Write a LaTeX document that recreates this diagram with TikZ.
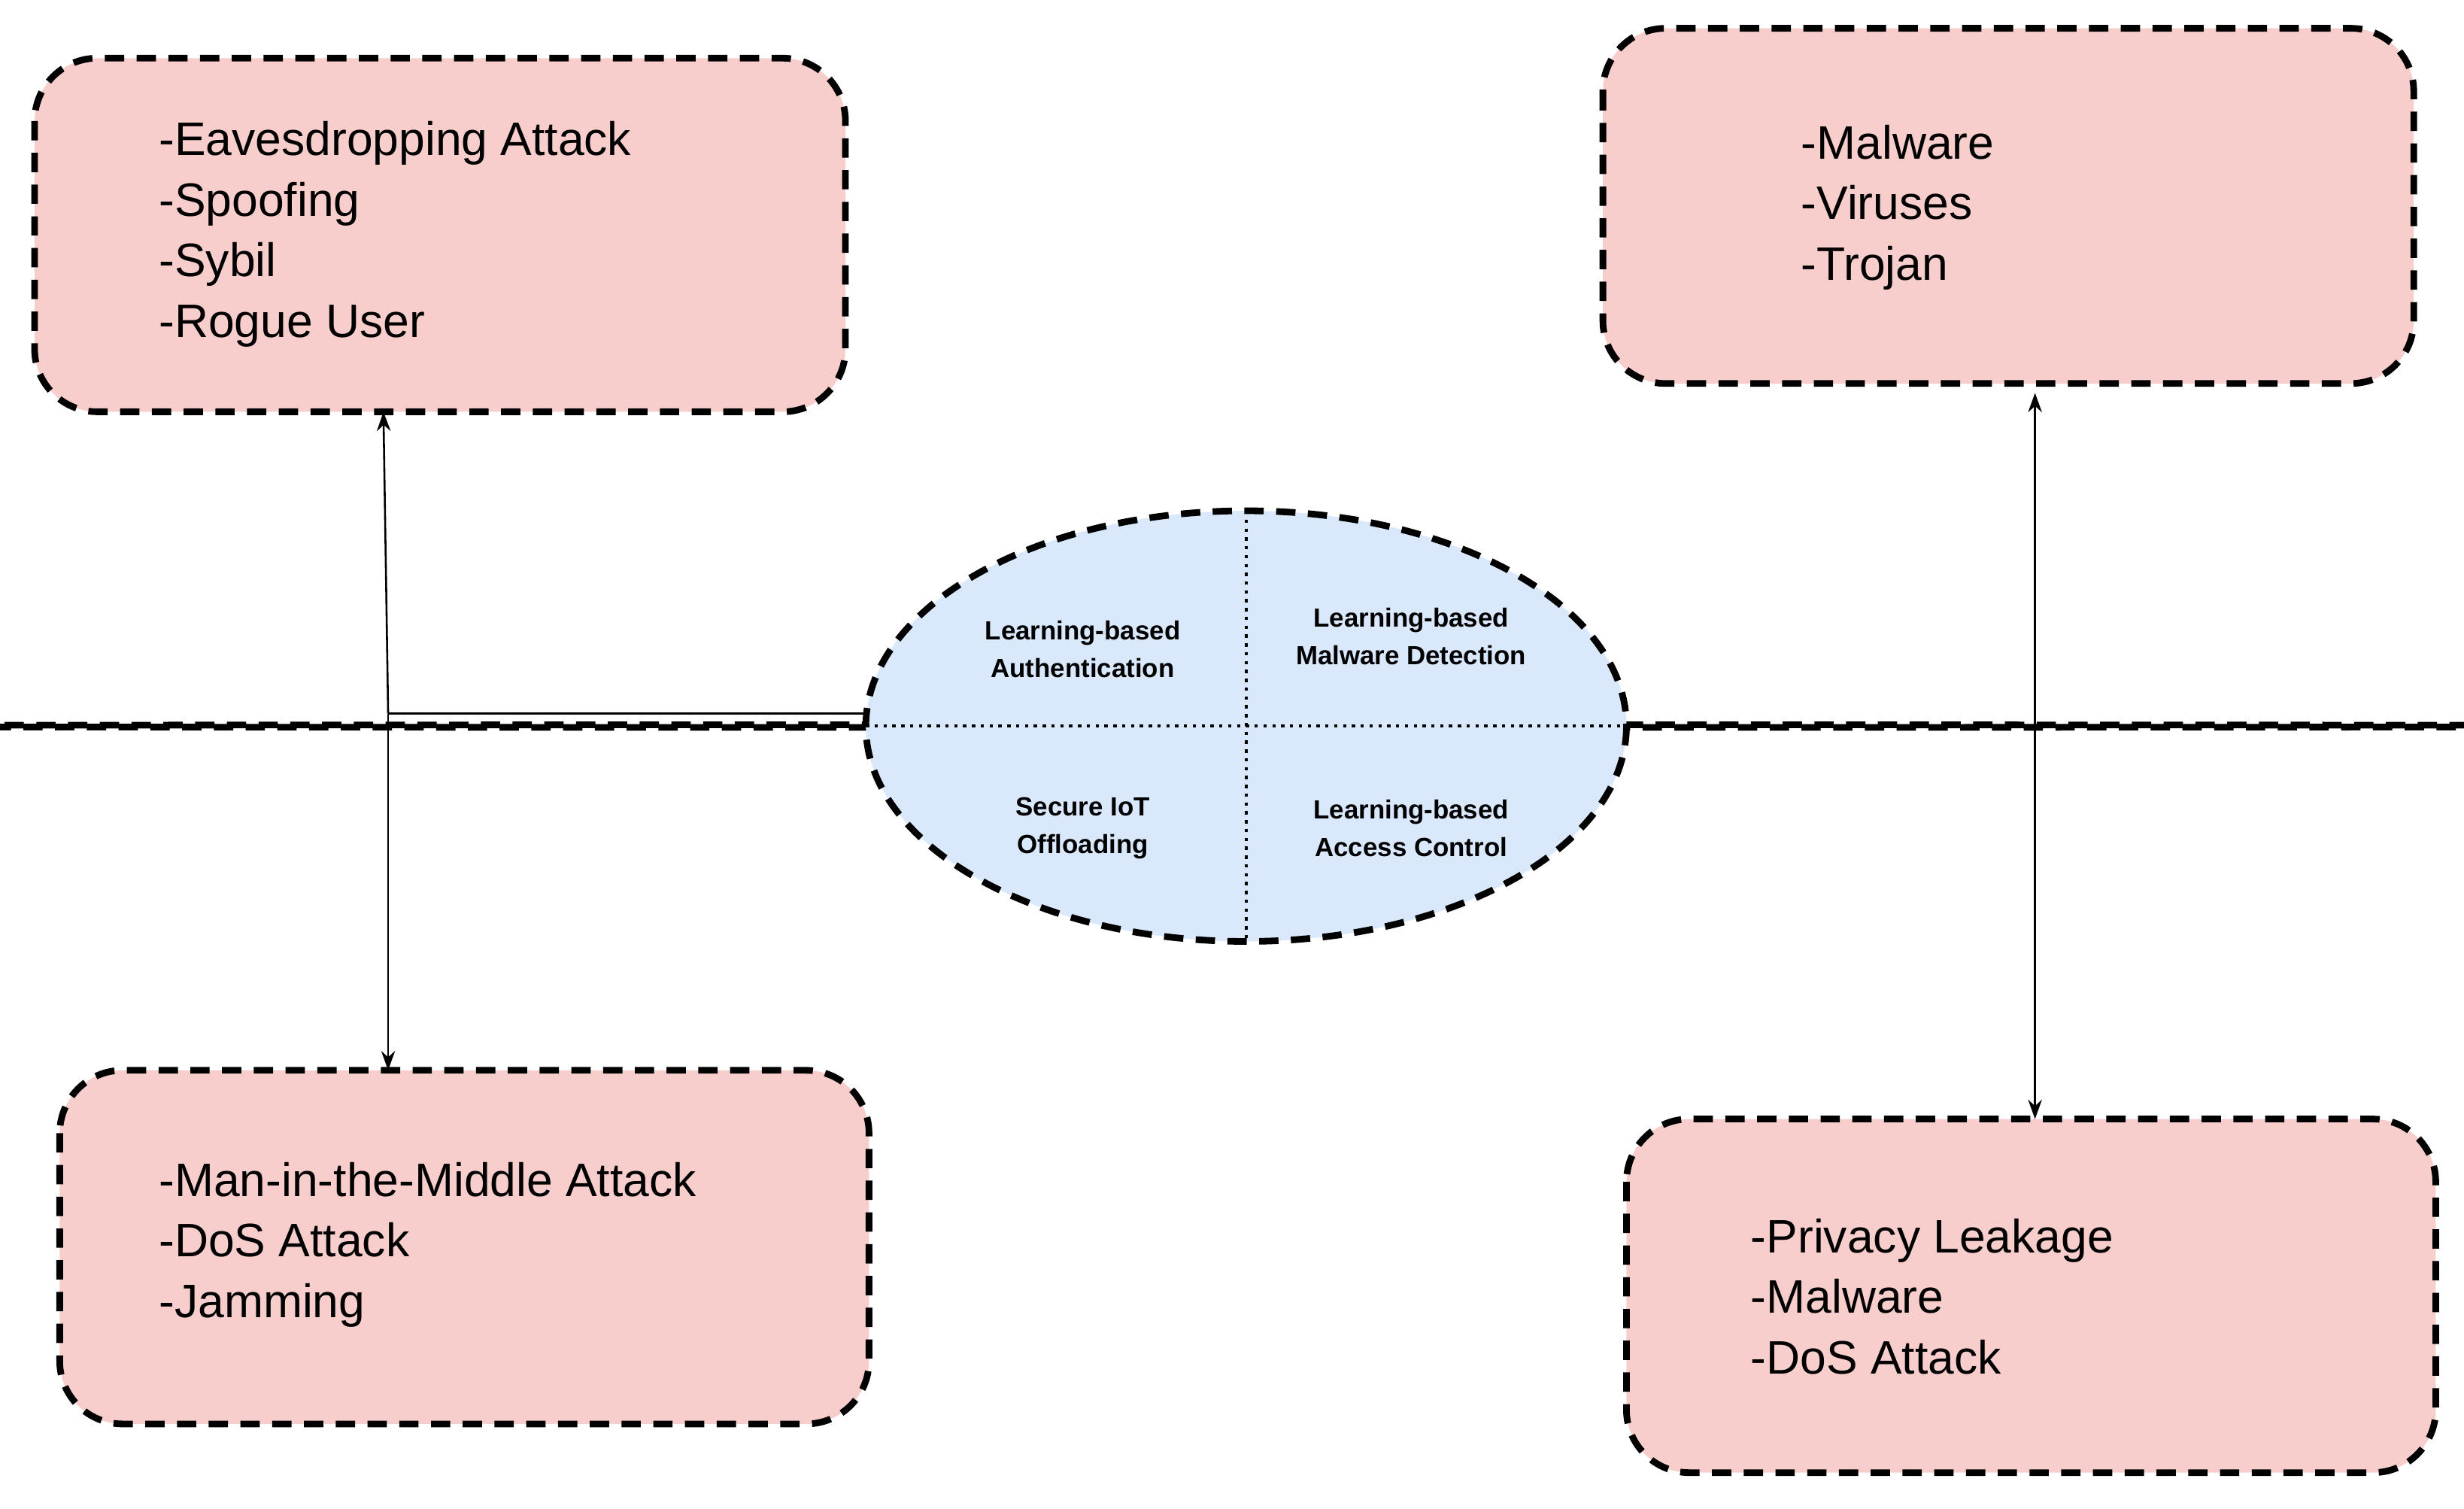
\documentclass[tikz,border=0pt]{standalone}
\usepackage{fontspec}
\setmainfont{Liberation Sans}
\usetikzlibrary{shapes.geometric,arrows.meta}
\definecolor{pinkf}{HTML}{F8CECC}
\definecolor{bluef}{HTML}{DAE8FC}
\begin{document}
\begin{tikzpicture}[x=0.02cm,y=-0.02cm,
  box/.style={draw,fill=pinkf,line width=2.4pt,dash pattern=on 7pt off 4.5pt,rounded corners=0.8cm},
  big/.style={anchor=west,font=\fontsize{17}{22}\selectfont,align=left},
  small/.style={font=\fontsize{9.5}{13.5}\selectfont\bfseries,align=center},
  conn/.style={line width=0.7pt},
  arr/.style={conn,-{Stealth[length=7pt,width=5pt]}}]
\useasboundingbox (0,0) rectangle (1568,960);
\draw[box] (22,37) rectangle (538,262);
\draw[box] (1020,18) rectangle (1536,244);
\draw[box] (38,681) rectangle (553,906);
\draw[box] (1035,712) rectangle (1550,937);
\node[big] (t1) at (95,149) {-Eavesdropping Attack\\-Spoofing\\-Sybil\\-Rogue User};
\node[big] (t2) at (1140,132) {-Malware\\-Viruses\\-Trojan};
\node[big] (t3) at (95,792) {-Man-in-the-Middle Attack\\-DoS Attack\\-Jamming};
\node[big] (t4) at (1108,825) {-Privacy Leakage\\-Malware\\-DoS Attack};
\coordinate (b1) at (244,262);
\coordinate (b2) at (1295,250);
\coordinate (b3) at (247,681);
\coordinate (b4) at (1295,712);
\node[draw,fill=bluef,ellipse,line width=2.4pt,dash pattern=on 7pt off 4.5pt,minimum width=484\pgflinewidth,inner sep=0] (e) at (793,462) {};
\path[draw,fill=bluef,line width=2.4pt,dash pattern=on 7pt off 4.5pt] (793,462) ellipse [x radius=242, y radius=137];
\draw[line width=1.2pt,dotted] (793,325) -- (793,599);
\draw[line width=1.2pt,dotted] (551,462) -- (1035,462);
\node[small] (l1) at (689,413) {Learning-based\\Authentication};
\node[small] (l2) at (898,405) {Learning-based\\Malware Detection};
\node[small] (l3) at (689,527) {Secure IoT\\Offloading};
\node[small] (l4) at (898,527) {Learning-based\\Access Control};
\coordinate (el) at (552,454);
\coordinate (er) at (1035,462);
\coordinate (jl) at (247,454);
\coordinate (jr) at (1295,462);
\draw[conn] (el) -- (jl);
\draw[arr] (jl) -- (b1);
\draw[arr] (jl) -- (b3);
\draw[conn] (er) -- (jr);
\draw[arr] (jr) -- (b2);
\draw[arr] (jr) -- (b4);
\end{tikzpicture}
\end{document}
